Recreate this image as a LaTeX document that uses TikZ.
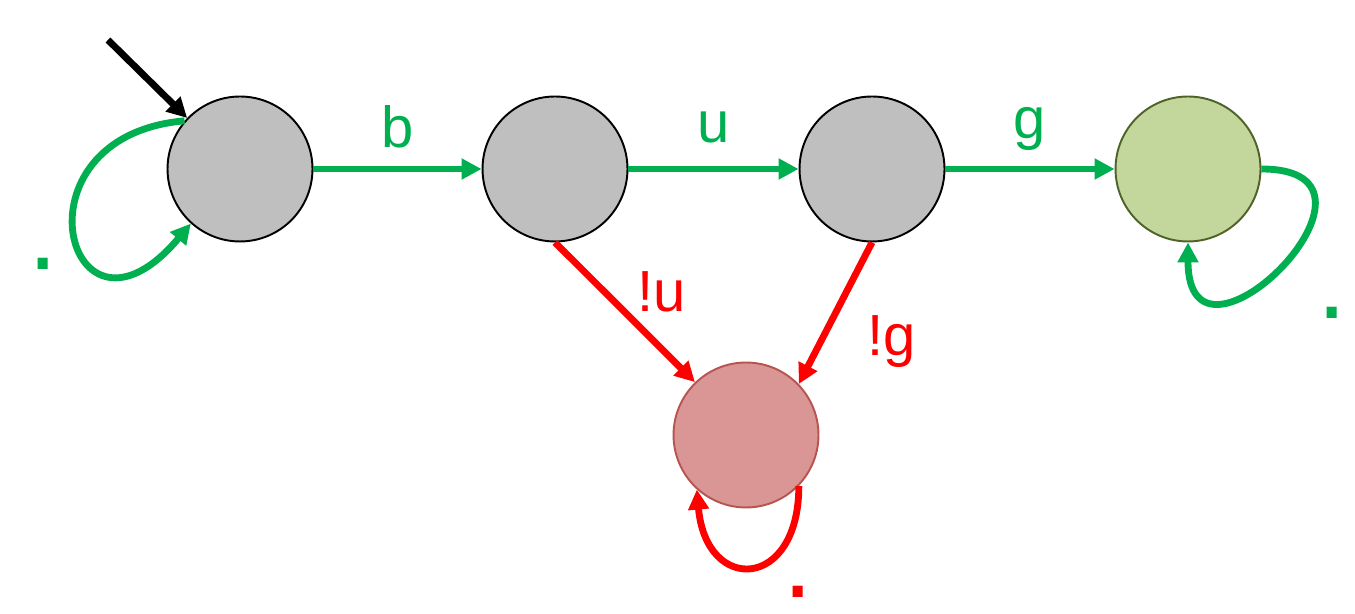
\documentclass[tikz,border=0pt]{standalone}
\usepackage{fontspec}
\setmainfont{Liberation Sans}
\usetikzlibrary{arrows.meta,positioning}
\definecolor{StateGray}{HTML}{BFBFBF}
\definecolor{AcceptFill}{HTML}{C3D69B}
\definecolor{AcceptLine}{HTML}{4F6228}
\definecolor{RejectFill}{HTML}{D99694}
\definecolor{RejectLine}{HTML}{B85450}
\definecolor{MoveGreen}{HTML}{00B050}
\definecolor{MoveRed}{HTML}{FF0000}

\tikzset{
  state/.style={circle,draw=black,fill=StateGray,minimum size=2.9cm,inner sep=0pt,line width=1.1pt},
  accept/.style={state,draw=AcceptLine,fill=AcceptFill},
  reject/.style={state,draw=RejectLine,fill=RejectFill},
  move/.style={line width=3.9pt,-{Triangle[length=0.4cm,width=0.4cm]}},
  lbl/.style={font=\fontsize{33}{40}\selectfont,inner sep=0pt},
  dotlbl/.style={font=\fontsize{60}{70}\selectfont,inner sep=0pt},
}

\begin{document}
\begin{tikzpicture}[x=0.02cm,y=0.02cm]
  \useasboundingbox (0,0) rectangle (1355,614);
  % states
  \node[state]  (q0) at (240,445) {};
  \node[state]  (q1) at (555,445) {};
  \node[state]  (q2) at (872,445) {};
  \node[accept] (q3) at (1188,445) {};
  \node[reject] (qr) at (746,179) {};
  \coordinate (init) at (108,574);
  % moves
  \draw[move,black] (init) -- (q0.136);
  \draw[move,MoveGreen] (q0) -- node[lbl,above=0.36cm] {b} (q1);
  \draw[move,MoveGreen] (q1) -- node[lbl,above=0.46cm] {u} (q2);
  \draw[move,MoveGreen] (q2) -- node[lbl,above=0.3cm] {g} (q3);
  \draw[move,MoveRed] (q1.south) -- node[lbl,pos=0.35,right=0.6cm] {!u} (qr.134);
  \draw[move,MoveRed] (q2.south) -- node[lbl,pos=0.7,right=0.86cm] {!g} (qr.44);
  % loops
  \draw[move,MoveGreen] (q0.139) to[out=185,in=230,out distance=3.6cm,in distance=3.8cm] (q0.228);
  \draw[move,MoveGreen] (q3.east) to[out=0,in=-90,distance=3.1cm] (q3.south);
  \draw[move,MoveRed] (qr.-44) to[out=-90,in=-85,distance=2.1cm] (qr.228);
  \node[dotlbl,MoveGreen] (dot0) at (43,350) {.};
  \node[dotlbl,MoveGreen] (dot3) at (1332,301) {.};
  \node[dotlbl,MoveRed]   (dotr) at (798,22) {.};
\end{tikzpicture}
\end{document}
